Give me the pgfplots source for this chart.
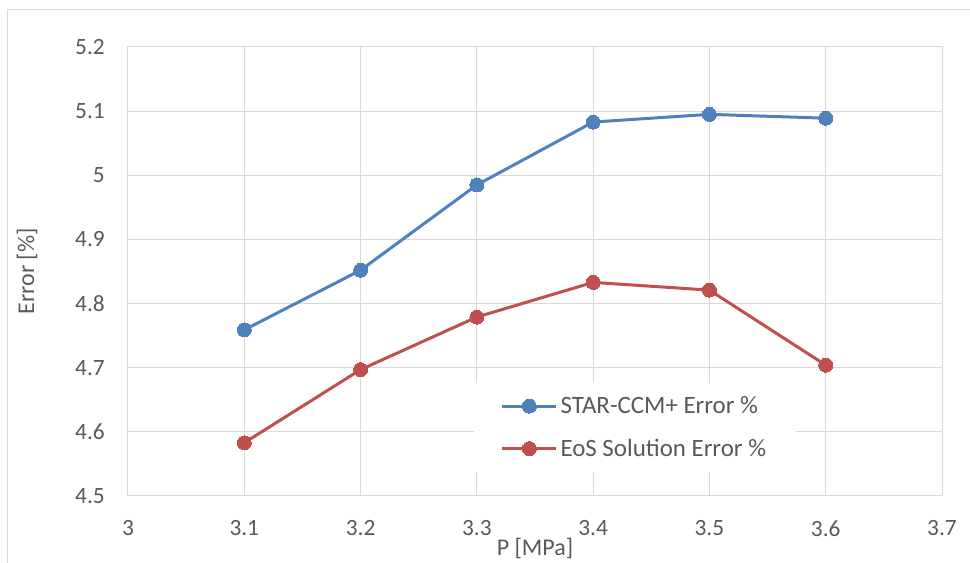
\documentclass[border=0pt]{standalone}
\usepackage{fontspec}
\setmainfont{Carlito}
\usepackage{pgfplots}
\pgfplotsset{compat=1.18}
\definecolor{sblue}{HTML}{4F81BD}
\definecolor{sred}{HTML}{C0504D}
\definecolor{tgray}{HTML}{595959}
\definecolor{ggray}{HTML}{D9D9D9}
\begin{document}
\begin{tikzpicture}
\useasboundingbox (-96pt,-50.25pt) rectangle (631.5pt,372pt);
\draw[ggray, line width=0.75pt] (-90pt,-50.25pt) -- (-90pt,364.5pt) -- (631.5pt,364.5pt);
\begin{axis}[
  at={(0pt,0pt)}, anchor=south west,
  scale only axis, width=610.5pt, height=336.75pt,
  xmin=3, xmax=3.7, ymin=4.5, ymax=5.2,
  xtick={3,3.1,...,3.7}, ytick={4.5,4.6,...,5.2},
  xticklabels={3,3.1,3.2,3.3,3.4,3.5,3.6,3.7},
  yticklabels={4.5,4.6,4.7,4.8,4.9,5,5.1,5.2},
  grid=major,
  major grid style={draw=ggray, line width=0.75pt},
  axis line style={draw=ggray, line width=0.75pt},
  major tick length=0pt,
  tick style={draw=none},
  /pgf/number format/assume math mode=true,
  every tick label/.append style={font=\fontsize{17.5}{20}\selectfont, text=tgray, inner sep=0pt},
  yticklabel style={anchor=east, xshift=-17.25pt},
  xticklabel style={anchor=north, yshift=-18pt},
  xlabel={P [MPa]}, ylabel={Error [\%]},
  label style={font=\fontsize{18}{20}\selectfont, text=tgray},
  xlabel style={at={(axis description cs:0.5,-0.1158)}, anchor=center},
  ylabel style={at={(axis description cs:-0.1241,0.5)}, anchor=center},
  legend style={at={(axis description cs:0.425,0.2517)}, anchor=north west,
    draw=none, fill=white, font=\fontsize{18.7}{21}\selectfont, text=tgray,
    inner xsep=20pt, inner ysep=8pt, row sep=13.5pt,
    cells={anchor=west}},
  legend image code/.code={\draw[mark repeat=2,mark phase=2,#1] plot coordinates {(0pt,0pt) (20.25pt,0pt) (40.5pt,0pt)};},
  clip=false,
]
\addplot[color=sblue, line width=2.25pt, mark=*, mark size=5.25pt, mark options={fill=sblue, draw=sblue, line width=0pt}]
  coordinates {(3.1,4.759) (3.2,4.852) (3.3,4.985) (3.4,5.083) (3.5,5.095) (3.6,5.089)};
\addlegendentry{STAR-CCM+ Error \%}
\addplot[color=sred, line width=2.25pt, mark=*, mark size=5.25pt, mark options={fill=sred, draw=sred, line width=0pt}]
  coordinates {(3.1,4.583) (3.2,4.697) (3.3,4.779) (3.4,4.833) (3.5,4.821) (3.6,4.704)};
\addlegendentry{EoS Solution Error \%}
\end{axis}
\end{tikzpicture}
\end{document}
